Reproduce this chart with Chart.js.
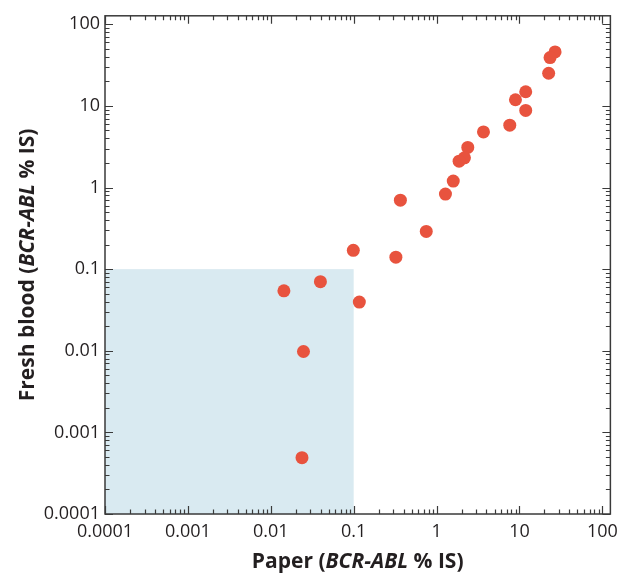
<!DOCTYPE html>
<html>
<head>
<meta charset="utf-8">
<script src="https://cdn.jsdelivr.net/npm/chart.js@4/dist/chart.umd.min.js"></script>
<style>
  html, body { margin: 0; padding: 0; background: #fff; }
  #wrap { width: 625px; height: 576px; }
</style>
</head>
<body>
<div id="wrap"><canvas id="scatter"></canvas></div>
<script>
// DATA
const paperValues = [26.9, 23.4, 22.5, 11.9, 8.95, 11.9, 7.64, 3.68, 2.38, 2.17, 1.87,
  1.59, 1.28, 0.366, 0.751, 0.099, 0.323, 0.0397, 0.117, 0.0144, 0.0248, 0.0238];
const freshValues = [45.8, 39.1, 25.1, 14.9, 11.9, 8.79, 5.8, 4.8, 3.1, 2.31, 2.1,
  1.2, 0.83, 0.7, 0.29, 0.17, 0.14, 0.0703, 0.0395, 0.0542, 0.0098, 0.00049];
const tickValues = [0.0001, 0.001, 0.01, 0.1, 1, 10, 100];
const tickLabels = ["0.0001", "0.001", "0.01", "0.1", "1", "10", "100"];
const shadeLimit = 0.1; // shaded zone goes up to 0.1 on both axes

const TEXT = "#231f20";
const FRAME = "#3a3a3a";
const DOT = "#e8533e";
const SHADE = "#d9eaf1";

const points = paperValues.map((x, i) => ({ x: x, y: freshValues[i] }));

// shaded box, frame, inward ticks on all sides, axis titles
const decorPlugin = {
  id: "decor",
  beforeDatasetsDraw(chart) {
    const { ctx, scales } = chart;
    const xs = scales.x, ys = scales.y;
    const left = xs.getPixelForValue(xs.min);
    const right = xs.getPixelForValue(shadeLimit);
    const top = ys.getPixelForValue(shadeLimit);
    const bottom = ys.getPixelForValue(ys.min);
    ctx.save();
    ctx.fillStyle = SHADE;
    ctx.fillRect(left, top, right - left, bottom - top);
    ctx.restore();
  },
  afterDraw(chart) {
    const { ctx, chartArea: a, scales } = chart;
    ctx.save();
    ctx.strokeStyle = FRAME;
    ctx.lineWidth = 1.5;
    ctx.strokeRect(a.left, a.top, a.right - a.left, a.bottom - a.top);

    ctx.lineWidth = 1.2;
    ctx.beginPath();
    for (let d = -4; d <= 2; d++) {
      for (let k = 1; k <= 9; k++) {
        const v = k * Math.pow(10, d);
        const len = k === 1 ? 8 : 4.5;
        if (v <= scales.x.max) {
          const px = Math.round(scales.x.getPixelForValue(v)) + 0.5;
          ctx.moveTo(px, a.bottom); ctx.lineTo(px, a.bottom - len);
          ctx.moveTo(px, a.top); ctx.lineTo(px, a.top + len);
        }
        if (v <= scales.y.max) {
          const py = Math.round(scales.y.getPixelForValue(v)) + 0.5;
          ctx.moveTo(a.left, py); ctx.lineTo(a.left + len, py);
          ctx.moveTo(a.right, py); ctx.lineTo(a.right - len, py);
        }
      }
    }
    ctx.stroke();

    // axis titles, with the gene name in italics
    const parts = (lead) => [
      [lead + " (", "bold 21px 'Open Sans'"],
      ["BCR-ABL", "italic bold 21px 'Open Sans'"],
      [" % IS)", "bold 21px 'Open Sans'"],
    ];
    const drawTitle = (segs, cx, cy, rot) => {
      let total = 0;
      segs.forEach(([t, f]) => { ctx.font = f; total += ctx.measureText(t).width; });
      ctx.save();
      ctx.translate(cx, cy);
      ctx.rotate(rot);
      ctx.fillStyle = TEXT;
      ctx.textBaseline = "alphabetic";
      ctx.textAlign = "left";
      let x = -total / 2;
      segs.forEach(([t, f]) => {
        ctx.font = f;
        ctx.fillText(t, x, 0);
        x += ctx.measureText(t).width;
      });
      ctx.restore();
    };
    const midX = (a.left + a.right) / 2;
    const midY = (a.top + a.bottom) / 2;
    drawTitle(parts("Paper"), midX, 568, 0);
    drawTitle(parts("Fresh blood"), 34, midY, -Math.PI / 2);
    ctx.restore();
  },
};

const setTicks = (scale) => {
  scale.ticks = tickValues.map((v) => ({ value: v }));
};
const labelFor = (value) => {
  const i = tickValues.indexOf(value);
  return i >= 0 ? tickLabels[i] : "";
};

new Chart(document.getElementById("scatter"), {
  type: "scatter",
  data: {
    datasets: [
      {
        data: points,
        backgroundColor: DOT,
        borderColor: DOT,
        pointRadius: 6.5,
        pointHoverRadius: 6.5,
        borderWidth: 0,
      },
    ],
  },
  options: {
    responsive: true,
    maintainAspectRatio: false,
    animation: false,
    layout: { padding: { left: 0, right: 13.5, top: 10, bottom: 0 } },
    plugins: {
      legend: { display: false },
      tooltip: { enabled: false },
    },
    scales: {
      x: {
        type: "logarithmic",
        min: 0.0001,
        max: 125,
        afterBuildTicks: setTicks,
        afterFit: (scale) => { scale.height = 62; },
        grid: { display: false, drawTicks: false },
        border: { display: false },
        ticks: {
          padding: 7,
          maxRotation: 0,
          autoSkip: false,
          color: TEXT,
          font: { family: "'Open Sans'", size: 18 },
          callback: labelFor,
        },
      },
      y: {
        type: "logarithmic",
        min: 0.0001,
        max: 127,
        afterBuildTicks: setTicks,
        afterFit: (scale) => { scale.width = 105; },
        grid: { display: false, drawTicks: false },
        border: { display: false },
        ticks: {
          padding: 5,
          autoSkip: false,
          color: TEXT,
          font: { family: "'Open Sans'", size: 18 },
          callback: labelFor,
        },
      },
    },
  },
  plugins: [decorPlugin],
});
</script>
</body>
</html>
